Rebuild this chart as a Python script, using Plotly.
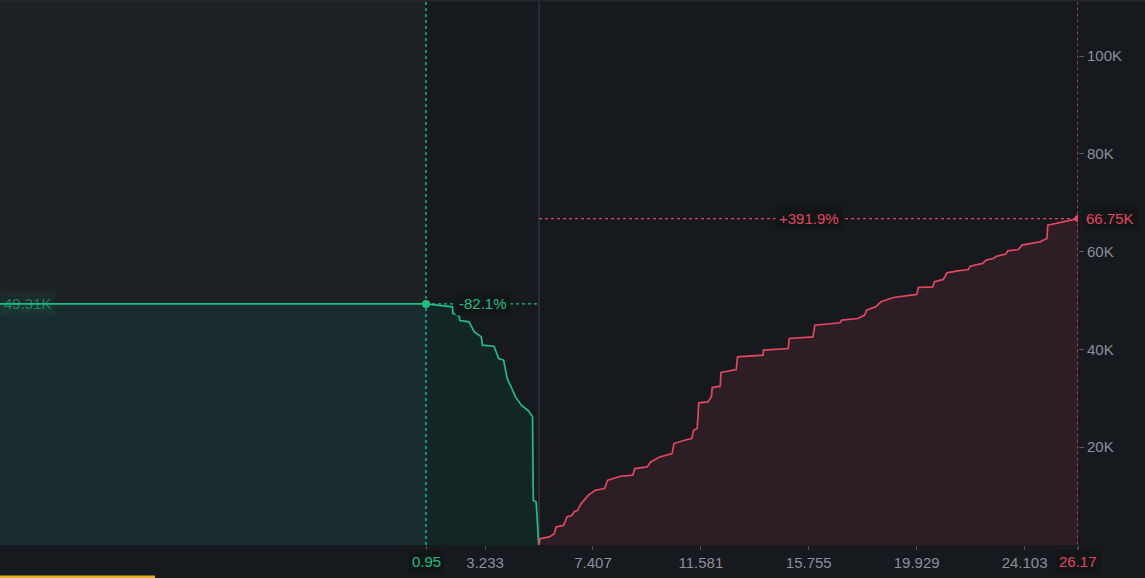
import plotly.graph_objects as go

# ---- data (price, cumulative depth in K) ----
mid_price = 5.32
bid_price = [0.95, 1.97, 1.99, 2.24, 2.26, 2.61, 2.82, 3.09, 3.13, 3.58, 3.76, 3.95,
             4.04, 4.09, 4.27, 4.41, 4.64, 4.91, 5.07, 5.10, 5.21, 5.31]
bid_depth = [49.31, 48.71, 47.35, 46.80, 45.90, 45.64, 43.59, 42.57, 40.87, 40.66, 38.15, 37.80,
             35.76, 34.06, 32.01, 30.29, 28.59, 27.43, 26.20, 9.16, 8.81, 0]
ask_price = [5.32, 5.36, 5.71, 5.91, 5.98, 6.26, 6.33, 6.40, 6.60, 6.67, 6.81, 6.95, 7.23, 7.50,
             7.85, 7.98, 8.47, 8.95, 9.02, 9.50, 9.64, 9.99, 10.47, 10.54, 10.95, 11.23, 11.30,
             11.44, 11.50, 11.85, 11.99, 12.02, 12.33, 12.36, 12.95, 13.00, 13.99, 14.00, 14.96,
             15.00, 15.92, 15.99, 16.96, 17.03, 17.65, 17.92, 17.99, 18.34, 18.55, 19.03, 19.93,
             20.00, 20.55, 20.62, 20.96, 21.10, 21.51, 21.93, 22.00, 22.48, 22.62, 22.89, 23.03,
             23.38, 23.45, 23.86, 24.00, 24.69, 24.97, 25.00, 26.17]
ask_depth = [0, 1.3, 1.65, 2.33, 3.7, 4.0, 4.7, 5.74, 6.08, 6.76, 7.1, 8.47, 10.2, 11.2,
             11.55, 13.24, 14.06, 14.27, 15.63, 15.97, 17.0, 18.0, 18.7, 20.75, 21.43, 21.77, 23.47,
             23.82, 29.07, 29.27, 30.3, 32.2, 32.48, 35.27, 35.89, 38.48, 38.82, 39.85, 40.19,
             42.23, 42.57, 44.96, 45.44, 45.98, 46.32, 47.01, 48.03, 48.71, 49.74, 50.62, 51.24,
             52.67, 52.8, 53.83, 54.31, 55.67, 56.08, 56.35, 57.03, 57.58, 58.26, 58.6, 59.08,
             59.49, 60.17, 60.44, 61.33, 62.0, 62.7, 65.4, 66.75]
x_ticks = [3.233, 7.407, 11.581, 15.755, 19.929, 24.103]
y_ticks = [20, 40, 60, 80, 100]
y_tick_labels = ["20K", "40K", "60K", "80K", "100K"]

GREEN = "#1dbf83"
RED = "#e3465f"
TICK = "#8b9099"
FONT = "Liberation Sans, Arial, sans-serif"

x_max = ask_price[-1]
x_min = mid_price - (x_max - mid_price)
y_max = 111.46

bid_x = [x_min] + bid_price
bid_y = [bid_depth[0]] + bid_depth

fig = go.Figure()

fig.add_trace(go.Scatter(x=bid_x, y=bid_y, mode="lines", line=dict(color=GREEN, width=1.7),
                         fill="tozeroy", fillcolor="rgba(0,160,120,0.10)", hoverinfo="skip"))
fig.add_trace(go.Scatter(x=ask_price, y=ask_depth, mode="lines", line=dict(color=RED, width=1.7),
                         fill="tozeroy", fillcolor="rgba(230,70,95,0.115)", hoverinfo="skip"))
fig.add_trace(go.Scatter(x=[bid_price[0]], y=[bid_depth[0]], mode="markers",
                         marker=dict(color=GREEN, size=8), hoverinfo="skip"))
fig.add_trace(go.Scatter(x=[ask_price[-1]], y=[ask_depth[-1]], mode="markers",
                         marker=dict(color=RED, size=7), hoverinfo="skip"))

shapes = [
    # highlighted region left of best visible bid
    dict(type="rect", xref="x", yref="paper", x0=x_min, x1=bid_price[0], y0=0, y1=1,
         fillcolor="#1e2126", line=dict(width=0), layer="below"),
    # mid line
    dict(type="line", xref="x", yref="paper", x0=mid_price, x1=mid_price, y0=0, y1=1,
         line=dict(color="#2a2d33", width=2), layer="below"),
    # dotted guides
    dict(type="line", xref="x", yref="paper", x0=bid_price[0], x1=bid_price[0], y0=0, y1=1,
         line=dict(color=GREEN, width=1.4, dash="dot")),
    dict(type="line", xref="x", yref="y", x0=bid_price[0], x1=mid_price, y0=bid_depth[0], y1=bid_depth[0],
         line=dict(color=GREEN, width=1.4, dash="dot")),
    dict(type="line", xref="x", yref="paper", x0=x_max, x1=x_max, y0=-0.01, y1=1,
         line=dict(color=RED, width=1.4, dash="dot")),
    dict(type="line", xref="x", yref="y", x0=mid_price, x1=x_max, y0=ask_depth[-1], y1=ask_depth[-1],
         line=dict(color=RED, width=1.4, dash="dot")),
    # top border
    dict(type="line", xref="paper", yref="paper", x0=0, x1=1.2, y0=1, y1=1,
         line=dict(color="#24272c", width=3)),
    # bottom yellow bar
    dict(type="line", xref="paper", yref="paper", x0=0, x1=155 / 1078, y0=-0.0585, y1=-0.0585,
         line=dict(color="#e5ad1f", width=3)),
]

bid_pct = (bid_price[0] / mid_price - 1) * 100
ask_pct = (ask_price[-1] / mid_price - 1) * 100

annotations = [
    dict(x=(bid_price[0] + mid_price) / 2, y=bid_depth[0], xref="x", yref="y",
         text=f"{bid_pct:.1f}%", showarrow=False, font=dict(color=GREEN, size=15, family=FONT),
         bgcolor="#131619", borderpad=3),
    dict(x=(mid_price + x_max) / 2, y=ask_depth[-1], xref="x", yref="y",
         text=f"+{ask_pct:.1f}%", showarrow=False, font=dict(color=RED, size=15, family=FONT),
         bgcolor="#131619", borderpad=3),
    dict(x=x_min, y=bid_depth[0], xref="x", yref="y", xanchor="left",
         text=f"{bid_depth[0]:.2f}K", showarrow=False, font=dict(color=GREEN, size=15, family=FONT),
         bgcolor="rgba(29,191,131,0.10)", borderpad=3, opacity=0.6),
    dict(x=x_max, y=ask_depth[-1], xref="x", yref="y", xanchor="left", xshift=4,
         text=f"{ask_depth[-1]:.2f}K", showarrow=False, font=dict(color=RED, size=15, family=FONT),
         bgcolor="#131619", borderpad=3),
    dict(x=bid_price[0], y=0, xref="x", yref="paper", yanchor="top", yshift=-4,
         text=f"{bid_price[0]:.2f}", showarrow=False, font=dict(color=GREEN, size=15, family=FONT),
         bgcolor="#131619", borderpad=3),
    dict(x=x_max, y=0, xref="x", yref="paper", yanchor="top", yshift=-4,
         text=f"{x_max:.2f}", showarrow=False, font=dict(color=RED, size=15, family=FONT),
         bgcolor="#131619", borderpad=3),
]

fig.update_layout(
    width=1145, height=578,
    margin=dict(l=0, r=67, t=0, b=33),
    paper_bgcolor="#16191e", plot_bgcolor="#16191e",
    showlegend=False,
    shapes=shapes, annotations=annotations,
    font=dict(family=FONT, size=15, color=TICK),
    xaxis=dict(range=[x_min, x_max], tickvals=[bid_price[0]] + x_ticks + [x_max],
               ticktext=[""] + [f"{v:.3f}" for v in x_ticks] + [""],
               ticks="outside", ticklen=4, tickcolor="#4a4e55", showgrid=False, zeroline=False,
               showline=False, tickfont=dict(color=TICK, size=15), fixedrange=True),
    yaxis=dict(range=[0, y_max], side="right", tickvals=y_ticks, ticktext=y_tick_labels,
               ticks="outside", ticklen=5, tickcolor="#5a5f67", showgrid=False, zeroline=False,
               showline=False, tickfont=dict(color=TICK, size=15), fixedrange=True),
)

fig.write_html("out.html", config={"displayModeBar": False},
               post_script="document.body.style.margin='0';document.body.style.background='#16191e';")
